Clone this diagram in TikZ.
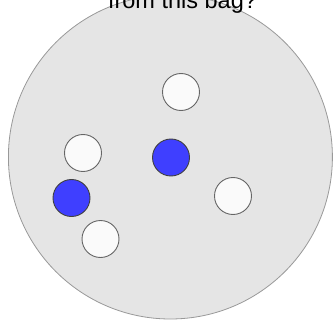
\documentclass[tikz,border=0pt]{standalone}
\usepackage{fontspec}
\setmainfont{Liberation Sans}
\definecolor{bagfill}{HTML}{E5E5E5}
\definecolor{bagdraw}{HTML}{999999}
\definecolor{blueball}{HTML}{3F3FFF}
\definecolor{whiteball}{HTML}{FAFAFA}
\tikzset{
  bag/.style={circle, draw=bagdraw, fill=bagfill, line width=0.8pt, minimum size=324pt, inner sep=0pt},
  wball/.style={circle, draw=black!60, fill=whiteball, line width=0.9pt, minimum size=37pt, inner sep=0pt},
  bball/.style={circle, draw=black!75, fill=blueball, line width=0.9pt, minimum size=37pt, inner sep=0pt},
  caption/.style={anchor=base, inner sep=0pt, font=\fontsize{23.5pt}{28pt}\selectfont}
}
\begin{document}
\begin{tikzpicture}[x=1pt,y=-1pt]
\useasboundingbox (0,0) rectangle (335,321);
\node[bag] (bag) at (170.4,157) {};
\node[caption] (q) at (182.5,8.3) {from this bag?};
\node[wball] (w1) at (181,92) {};
\node[wball] (w2) at (83,153) {};
\node[bball] (b1) at (171,157.5) {};
\node[bball] (b2) at (71.5,198) {};
\node[wball] (w3) at (100.5,239) {};
\node[wball] (w4) at (233,196) {};
\end{tikzpicture}
\end{document}
